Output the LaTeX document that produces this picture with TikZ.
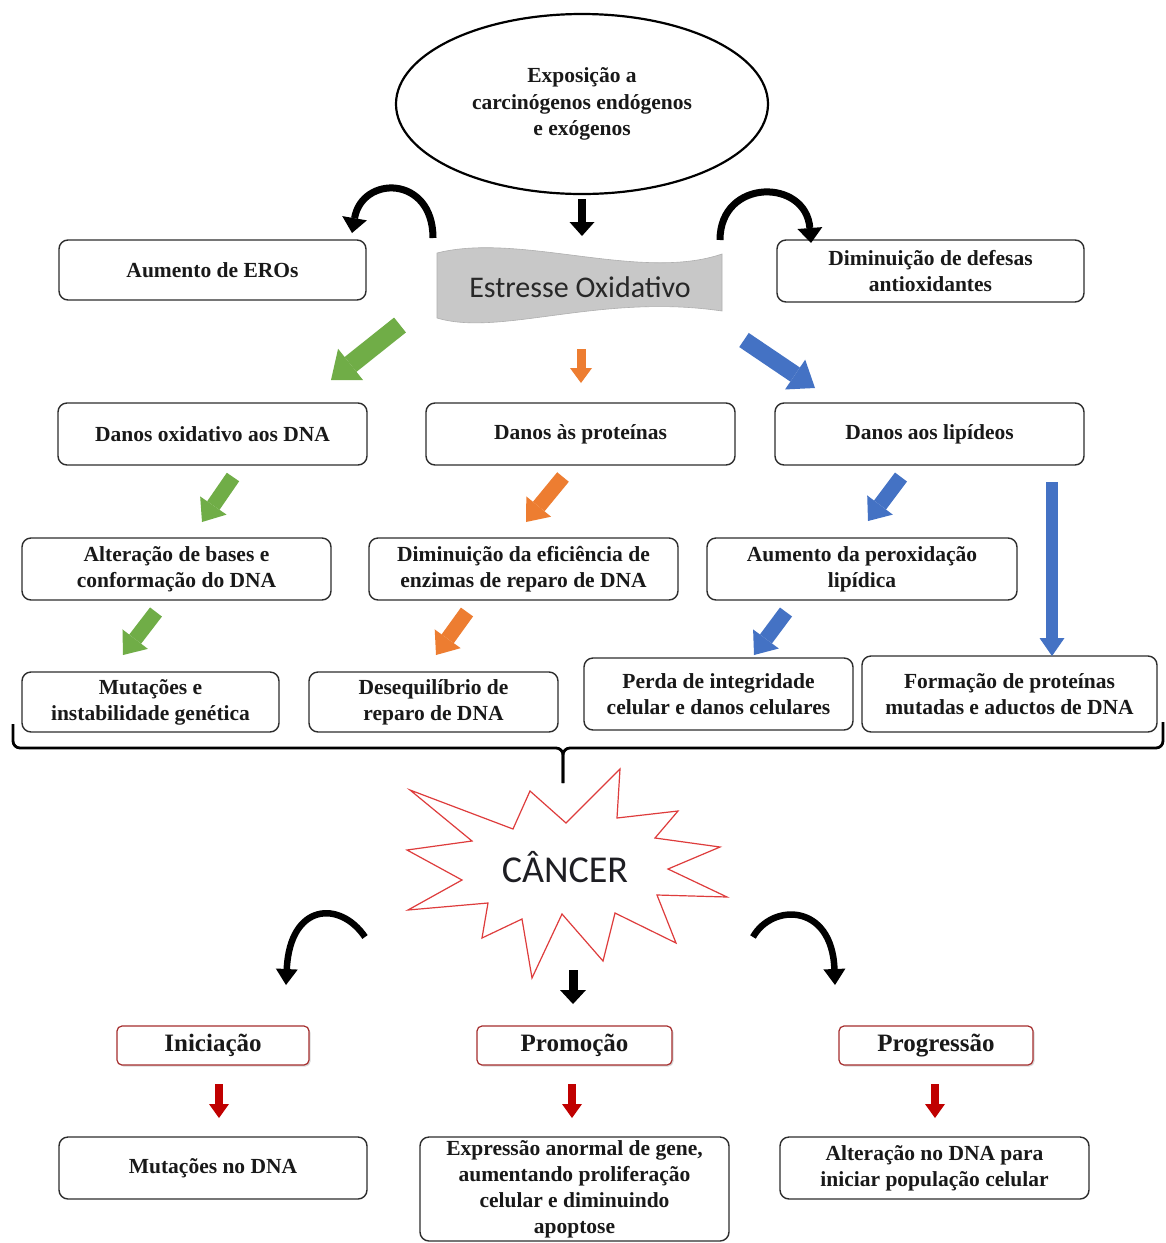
\documentclass[tikz,border=0pt]{standalone}
\usepackage{fontspec}
\setmainfont{Liberation Serif}
\newfontfamily\calfont{Carlito}
\usetikzlibrary{arrows.meta,shapes.geometric,shadows}
\definecolor{cgreen}{RGB}{112,173,71}
\definecolor{corange}{RGB}{237,125,49}
\definecolor{cblue}{RGB}{68,114,196}
\definecolor{cdred}{RGB}{192,0,0}
\definecolor{cstar}{RGB}{222,60,60}
\definecolor{cbox}{RGB}{45,45,45}
\definecolor{ctext}{RGB}{25,25,25}
\definecolor{credbox}{RGB}{165,45,45}
\definecolor{cband}{RGB}{200,200,200}
\definecolor{cbandedge}{RGB}{175,175,175}
\begin{document}
\begin{tikzpicture}[x=1pt,y=-1pt,
  box/.style={draw=cbox, line width=1.4pt, rounded corners=9pt, fill=white, align=center, text=ctext,
    font=\fontsize{21.5}{26}\selectfont\bfseries, inner sep=0pt},
  stagebox/.style={draw=credbox, line width=1.2pt, rounded corners=5pt, fill=white, align=center, text=ctext,
    font=\fontsize{25}{28}\selectfont\bfseries, inner sep=0pt,
    drop shadow={shadow xshift=1.5pt, shadow yshift=-1.5pt, opacity=0.3}},
  barrow/.style n args={4}{draw=#1, line width=#2, line cap=butt,
    -{Triangle[width=#3, length=#4, line width=0pt]}},
  curl/.style n args={3}{draw=black, line width=#1, line cap=butt,
    -{Triangle[width=#2, length=#3, line width=0pt]}},
]
\useasboundingbox (0,0) rectangle (1166,1243);
\fill[white] (0,0) rectangle (1166,1243);

% ---------- top ellipse ----------
\node[ellipse, draw=black, line width=2.2pt, minimum width=372pt, minimum height=180pt,
  align=center, text=ctext, font=\fontsize{21.5}{26.5}\selectfont\bfseries, inner sep=0pt]
  (expo) at (582,104) {Exposição a\\carcinógenos endógenos\\e exógenos};

% ---------- banner ----------
\fill[cband, draw=cbandedge, line width=0.6pt]
  (437,253) .. controls (520,232) and (640,282) .. (722,254)
  -- (722,311) .. controls (600,293) and (500,337) .. (437,318) -- cycle;
\node[font=\calfont\fontsize{30}{32}\selectfont, text={rgb,255:red,40;green,40;blue,40}, inner sep=0pt]
  (stress) at (580,287) {Estresse Oxidativo};

% ---------- boxes ----------
\node[box, minimum width=307pt, minimum height=60pt] (eros) at (212.5,270) {Aumento de EROs};
\node[box, minimum width=307pt, minimum height=62pt] (defesa) at (930.5,271) {Diminuição de defesas\\antioxidantes};

\node[box, minimum width=309pt, minimum height=62pt] (dna) at (212.5,434) {Danos oxidativo aos DNA};
\node[box, minimum width=309pt, minimum height=62pt] (prot) at (580.5,434) {Danos às proteínas};
\node[box, minimum width=309pt, minimum height=62pt] (lip) at (929.5,434) {Danos aos lipídeos};

\node[box, minimum width=309pt, minimum height=62pt] (alt) at (176.5,569) {Alteração de bases e\\conformação do DNA};
\node[box, minimum width=309pt, minimum height=62pt] (efic) at (523.5,569) {Diminuição da eficiência de\\enzimas de reparo de DNA};
\node[box, minimum width=310pt, minimum height=62pt] (perox) at (862,569) {Aumento da peroxidação\\lipídica};

\node[box, minimum width=257pt, minimum height=60pt] (mut) at (150.5,702) {Mutações e\\instabilidade genética};
\node[box, minimum width=249pt, minimum height=60pt] (deseq) at (433.5,702) {Desequilíbrio de\\reparo de DNA};
\node[box, minimum width=269pt, minimum height=72pt] (perda) at (718.5,694) {Perda de integridade\\celular e danos celulares};
\node[box, minimum width=295pt, minimum height=76pt] (form) at (1009.5,694) {Formação de proteínas\\mutadas e aductos de DNA};

% ---------- arrow end points ----------
\coordinate (e1) at (582,199); \coordinate (e2) at (582,236);
\coordinate (cl1) at (433,238); \coordinate (cl2) at (352,233);
\coordinate (cr1) at (720,240); \coordinate (cr2) at (811,243);
\coordinate (g1a) at (400,325); \coordinate (g1b) at (331,380);
\coordinate (o1a) at (581,349); \coordinate (o1b) at (581,383);
\coordinate (b1a) at (744,340); \coordinate (b1b) at (815,388);
\coordinate (g2a) at (233,477); \coordinate (g2b) at (202,522);
\coordinate (o2a) at (563,477); \coordinate (o2b) at (526,522);
\coordinate (b2a) at (901,477); \coordinate (b2b) at (868,521);
\coordinate (b4a) at (1052,482); \coordinate (b4b) at (1052,656);
\coordinate (g3a) at (156,612); \coordinate (g3b) at (123,655);
\coordinate (o3a) at (467,612); \coordinate (o3b) at (436,655);
\coordinate (b3a) at (786,612); \coordinate (b3b) at (754,655);

% ---------- top connectors ----------
\draw[barrow={black}{8pt}{25pt}{14pt}] (e1) -- (e2);
\draw[curl={7pt}{25pt}{15pt}] (cl1) .. controls (433,175) and (362,175) .. (cl2);
\draw[curl={7pt}{25pt}{15pt}] (cr1) .. controls (720,178) and (806,178) .. (cr2);

\draw[barrow={cgreen}{19pt}{40pt}{25pt}] (g1a) -- (g1b);
\draw[barrow={corange}{9pt}{22pt}{15pt}] (o1a) -- (o1b);
\draw[barrow={cblue}{17pt}{36pt}{24pt}] (b1a) -- (b1b);

\draw[barrow={cgreen}{15pt}{32pt}{20pt}] (g2a) -- (g2b);
\draw[barrow={corange}{15pt}{32pt}{20pt}] (o2a) -- (o2b);
\draw[barrow={cblue}{15pt}{32pt}{20pt}] (b2a) -- (b2b);
\draw[barrow={cblue}{12pt}{25pt}{18pt}] (b4a) -- (b4b);

\draw[barrow={cgreen}{15pt}{32pt}{20pt}] (g3a) -- (g3b);
\draw[barrow={corange}{15pt}{32pt}{20pt}] (o3a) -- (o3b);
\draw[barrow={cblue}{15pt}{32pt}{20pt}] (b3a) -- (b3b);

% ---------- brace ----------
\draw[line width=2.8pt, rounded corners=7pt] (13,724) -- (13,748) -- (563,748) -- (563,783);
\draw[line width=2.8pt, rounded corners=7pt] (1163,722) -- (1163,748) -- (563,748) -- (563,783);

% ---------- star ----------
\draw[draw=cstar, line width=1.2pt, fill=white, line join=miter]
  (410,790) -- (513,829) -- (530,791) -- (566,823) -- (620,769) -- (617,818) -- (678,811)
  -- (655,838) -- (720,847) -- (668,869) -- (727,897) -- (657,895) -- (676,943) -- (615,913)
  -- (603,961) -- (562,914) -- (532,978) -- (522,919) -- (482,938) -- (488,903) -- (408,910)
  -- (462,880) -- (407,850) -- (472,841) -- cycle;
\node[font=\calfont\fontsize{38}{40}\selectfont, text={rgb,255:red,30;green,30;blue,35}, inner sep=0pt]
  (cancer) at (565,867) {CÂNCER};

% ---------- bottom ----------
\coordinate (k1) at (573,970); \coordinate (k2) at (573,1004);
\coordinate (bl1) at (365,937); \coordinate (bl2) at (286,985);
\coordinate (br1) at (753,937); \coordinate (br2) at (835,985);
\draw[barrow={black}{9pt}{26pt}{14pt}] (k1) -- (k2);
\draw[curl={6.5pt}{22pt}{16pt}] (bl1) .. controls (340,900) and (290,903) .. (bl2);
\draw[curl={6.5pt}{22pt}{16pt}] (br1) .. controls (772,903) and (832,903) .. (br2);

\node[stagebox, minimum width=192pt, minimum height=39pt] (inic) at (213,1045.5) {Iniciação};
\node[stagebox, minimum width=195pt, minimum height=39pt] (prom) at (574.5,1045.5) {Promoção};
\node[stagebox, minimum width=194pt, minimum height=39pt] (prog) at (936,1045.5) {Progressão};

\coordinate (r1a) at (219,1084); \coordinate (r1b) at (219,1118);
\coordinate (r2a) at (572,1084); \coordinate (r2b) at (572,1118);
\coordinate (r3a) at (935,1084); \coordinate (r3b) at (935,1118);
\draw[barrow={cdred}{8pt}{20pt}{14pt}] (r1a) -- (r1b);
\draw[barrow={cdred}{8pt}{20pt}{14pt}] (r2a) -- (r2b);
\draw[barrow={cdred}{8pt}{20pt}{14pt}] (r3a) -- (r3b);

\node[box, minimum width=308pt, minimum height=62pt] (mdna) at (213,1168) {Mutações no DNA};
\node[box, minimum width=309pt, minimum height=104pt] (expr) at (574.5,1189) {Expressão anormal de gene,\\aumentando proliferação\\celular e diminuindo\\apoptose};
\node[box, minimum width=309pt, minimum height=62pt] (adna) at (934.5,1168) {Alteração no DNA para\\iniciar população celular};
\end{tikzpicture}
\end{document}
